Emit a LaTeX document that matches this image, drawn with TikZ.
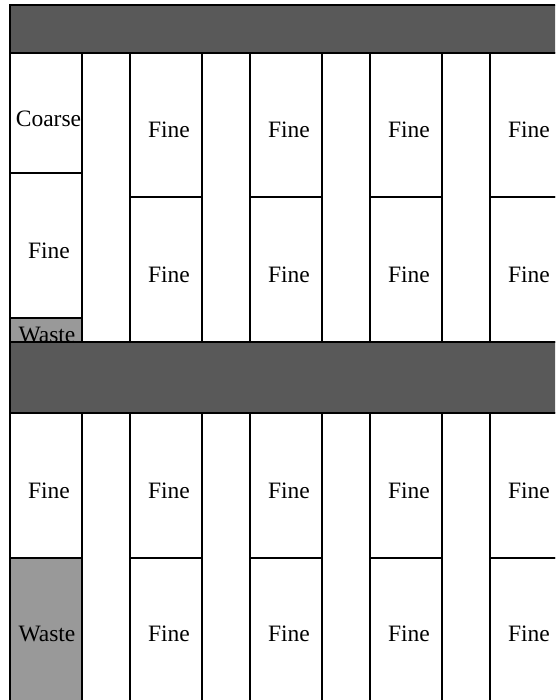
\documentclass[tikz,border=0pt]{standalone}
\usepackage{fontspec}
\setmainfont{Liberation Serif}
\definecolor{bandgray}{HTML}{595959}
\definecolor{wastegray}{HTML}{999999}
\definecolor{cellline}{HTML}{000000}

\begin{document}
\begin{tikzpicture}[
    x=1pt, y=-1pt,
    line width=1.6pt,
    line join=miter,
    cell/.style={draw=cellline, fill=white},
    wastecell/.style={draw=cellline, fill=wastegray},
    band/.style={draw=cellline, fill=bandgray},
    lbl/.style={inner sep=0pt, font=\fontsize{23.5}{28}\selectfont}
]

    % Page frame
    \useasboundingbox (0,0) rectangle (555,700);
    \clip (0,0) rectangle (555,700);

    % Upper plots: first column (Coarse / Fine / Waste)
    \draw[cell] (10,53) rectangle (82,173);
    \node[lbl] (coarse) at (48.5,118.5) {Coarse};
    \draw[cell] (10,173) rectangle (82,318);
    \node[lbl] (fineU0) at (49,250.5) {Fine};
    \draw[wastecell] (10,318) rectangle (82,342);
    \node[lbl] (wasteU) at (47,335) {Waste};

    % Upper plots: other columns
    \foreach \cx [count=\i] in {130, 250, 370, 490} {
        \draw[cell] (\cx,53) rectangle (\cx+72,197);
        \node[lbl] (fineUa\i) at (\cx+39,130) {Fine};
        \draw[cell] (\cx,197) rectangle (\cx+72,342);
        \node[lbl] (fineUb\i) at (\cx+39,274.5) {Fine};
    }

    % Lower plots: first column (Fine / Waste)
    \draw[cell] (10,413) rectangle (82,558);
    \node[lbl] (fineL0) at (49,490.5) {Fine};
    \draw[wastecell] (10,558) rectangle (82,720);
    \node[lbl] (wasteL) at (47,634) {Waste};

    % Lower plots: other columns
    \foreach \cx [count=\i] in {130, 250, 370, 490} {
        \draw[cell] (\cx,413) rectangle (\cx+72,558);
        \node[lbl] (fineLa\i) at (\cx+39,490.5) {Fine};
        \draw[cell] (\cx,558) rectangle (\cx+72,720);
        \node[lbl] (fineLb\i) at (\cx+39,634) {Fine};
    }

    % Dark bands (drawn last, over the cells)
    \draw[band] (10,5) rectangle (600,53);
    \draw[band] (10,342) rectangle (600,413);

\end{tikzpicture}
\end{document}
